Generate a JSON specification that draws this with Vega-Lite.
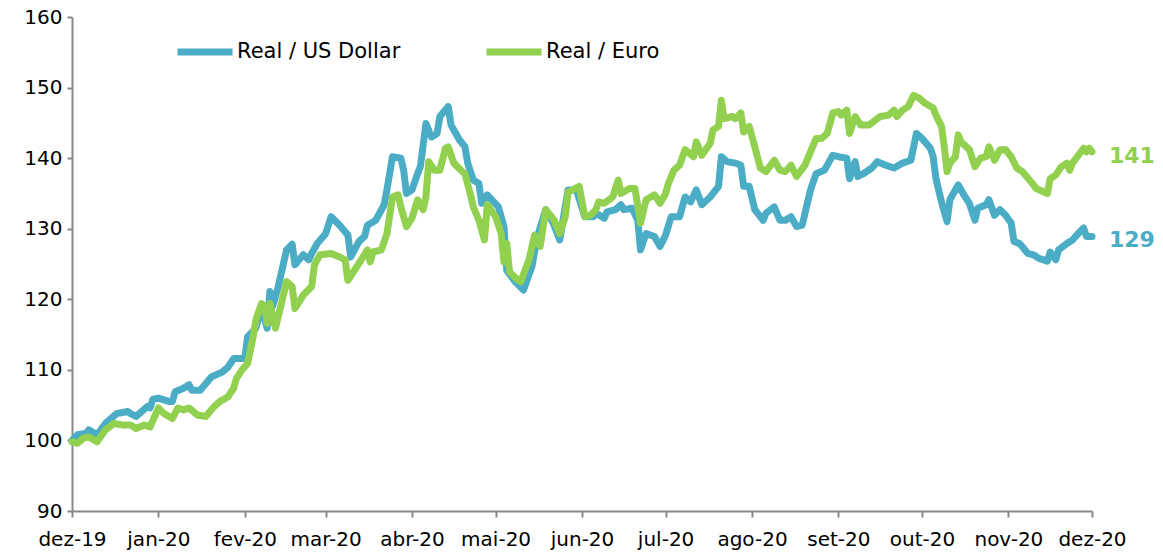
{
  "$schema": "https://vega.github.io/schema/vega-lite/v6.json",
  "autosize": "none",
  "width": 1020,
  "height": 494,
  "padding": {"left": 72, "top": 17, "right": 71, "bottom": 44},
  "background": "white",
  "config": {
    "view": {"stroke": null},
    "font": "DejaVu Sans",
    "axis": {"labelFont": "DejaVu Sans", "labelFontSize": 20, "labelColor": "#000", "domainColor": "#888", "tickColor": "#888", "domainWidth": 2, "tickWidth": 2, "grid": false, "title": null}
  },
  "data": {
    "format": {"parse": {"date": "utc:'%Y-%m-%d'"}},
    "values": [
      {"date":"2019-12-01","series":"Real / US Dollar","value":100.0},
      {"date":"2019-12-03","series":"Real / US Dollar","value":100.8},
      {"date":"2019-12-06","series":"Real / US Dollar","value":101.0},
      {"date":"2019-12-07","series":"Real / US Dollar","value":101.5},
      {"date":"2019-12-10","series":"Real / US Dollar","value":100.8},
      {"date":"2019-12-13","series":"Real / US Dollar","value":102.4},
      {"date":"2019-12-17","series":"Real / US Dollar","value":103.8},
      {"date":"2019-12-21","series":"Real / US Dollar","value":104.1},
      {"date":"2019-12-22","series":"Real / US Dollar","value":103.8},
      {"date":"2019-12-24","series":"Real / US Dollar","value":103.4},
      {"date":"2019-12-28","series":"Real / US Dollar","value":104.8},
      {"date":"2019-12-29","series":"Real / US Dollar","value":104.6},
      {"date":"2019-12-30","series":"Real / US Dollar","value":105.8},
      {"date":"2020-01-01","series":"Real / US Dollar","value":106.0},
      {"date":"2020-01-05","series":"Real / US Dollar","value":105.5},
      {"date":"2020-01-06","series":"Real / US Dollar","value":105.5},
      {"date":"2020-01-07","series":"Real / US Dollar","value":106.9},
      {"date":"2020-01-10","series":"Real / US Dollar","value":107.4},
      {"date":"2020-01-12","series":"Real / US Dollar","value":107.9},
      {"date":"2020-01-13","series":"Real / US Dollar","value":107.1},
      {"date":"2020-01-16","series":"Real / US Dollar","value":107.1},
      {"date":"2020-01-20","series":"Real / US Dollar","value":109.0},
      {"date":"2020-01-24","series":"Real / US Dollar","value":109.7},
      {"date":"2020-01-26","series":"Real / US Dollar","value":110.4},
      {"date":"2020-01-28","series":"Real / US Dollar","value":111.6},
      {"date":"2020-02-01","series":"Real / US Dollar","value":111.6},
      {"date":"2020-02-02","series":"Real / US Dollar","value":114.7},
      {"date":"2020-02-05","series":"Real / US Dollar","value":115.9},
      {"date":"2020-02-07","series":"Real / US Dollar","value":119.0},
      {"date":"2020-02-09","series":"Real / US Dollar","value":115.9},
      {"date":"2020-02-10","series":"Real / US Dollar","value":121.1},
      {"date":"2020-02-11","series":"Real / US Dollar","value":119.0},
      {"date":"2020-02-13","series":"Real / US Dollar","value":121.8},
      {"date":"2020-02-16","series":"Real / US Dollar","value":127.0},
      {"date":"2020-02-18","series":"Real / US Dollar","value":127.8},
      {"date":"2020-02-19","series":"Real / US Dollar","value":124.9},
      {"date":"2020-02-22","series":"Real / US Dollar","value":126.3},
      {"date":"2020-02-24","series":"Real / US Dollar","value":125.6},
      {"date":"2020-02-25","series":"Real / US Dollar","value":126.5},
      {"date":"2020-02-27","series":"Real / US Dollar","value":127.9},
      {"date":"2020-03-01","series":"Real / US Dollar","value":129.3},
      {"date":"2020-03-03","series":"Real / US Dollar","value":131.7},
      {"date":"2020-03-06","series":"Real / US Dollar","value":130.5},
      {"date":"2020-03-09","series":"Real / US Dollar","value":129.1},
      {"date":"2020-03-10","series":"Real / US Dollar","value":126.0},
      {"date":"2020-03-13","series":"Real / US Dollar","value":128.2},
      {"date":"2020-03-15","series":"Real / US Dollar","value":128.9},
      {"date":"2020-03-16","series":"Real / US Dollar","value":130.5},
      {"date":"2020-03-19","series":"Real / US Dollar","value":131.2},
      {"date":"2020-03-22","series":"Real / US Dollar","value":133.4},
      {"date":"2020-03-23","series":"Real / US Dollar","value":135.5},
      {"date":"2020-03-25","series":"Real / US Dollar","value":140.2},
      {"date":"2020-03-28","series":"Real / US Dollar","value":140.0},
      {"date":"2020-03-29","series":"Real / US Dollar","value":138.3},
      {"date":"2020-03-30","series":"Real / US Dollar","value":135.0},
      {"date":"2020-04-01","series":"Real / US Dollar","value":135.5},
      {"date":"2020-04-03","series":"Real / US Dollar","value":137.8},
      {"date":"2020-04-04","series":"Real / US Dollar","value":138.8},
      {"date":"2020-04-06","series":"Real / US Dollar","value":144.9},
      {"date":"2020-04-08","series":"Real / US Dollar","value":143.0},
      {"date":"2020-04-10","series":"Real / US Dollar","value":143.5},
      {"date":"2020-04-11","series":"Real / US Dollar","value":145.9},
      {"date":"2020-04-14","series":"Real / US Dollar","value":147.3},
      {"date":"2020-04-15","series":"Real / US Dollar","value":144.7},
      {"date":"2020-04-18","series":"Real / US Dollar","value":142.6},
      {"date":"2020-04-20","series":"Real / US Dollar","value":141.6},
      {"date":"2020-04-21","series":"Real / US Dollar","value":139.3},
      {"date":"2020-04-23","series":"Real / US Dollar","value":136.9},
      {"date":"2020-04-25","series":"Real / US Dollar","value":136.4},
      {"date":"2020-04-26","series":"Real / US Dollar","value":133.6},
      {"date":"2020-04-28","series":"Real / US Dollar","value":134.8},
      {"date":"2020-05-02","series":"Real / US Dollar","value":133.1},
      {"date":"2020-05-04","series":"Real / US Dollar","value":130.3},
      {"date":"2020-05-05","series":"Real / US Dollar","value":124.1},
      {"date":"2020-05-08","series":"Real / US Dollar","value":122.5},
      {"date":"2020-05-11","series":"Real / US Dollar","value":121.3},
      {"date":"2020-05-14","series":"Real / US Dollar","value":124.6},
      {"date":"2020-05-16","series":"Real / US Dollar","value":128.9},
      {"date":"2020-05-19","series":"Real / US Dollar","value":132.7},
      {"date":"2020-05-22","series":"Real / US Dollar","value":130.5},
      {"date":"2020-05-24","series":"Real / US Dollar","value":128.4},
      {"date":"2020-05-27","series":"Real / US Dollar","value":135.5},
      {"date":"2020-05-30","series":"Real / US Dollar","value":135.5},
      {"date":"2020-06-02","series":"Real / US Dollar","value":131.7},
      {"date":"2020-06-05","series":"Real / US Dollar","value":131.7},
      {"date":"2020-06-06","series":"Real / US Dollar","value":132.2},
      {"date":"2020-06-09","series":"Real / US Dollar","value":131.5},
      {"date":"2020-06-10","series":"Real / US Dollar","value":132.4},
      {"date":"2020-06-13","series":"Real / US Dollar","value":132.7},
      {"date":"2020-06-15","series":"Real / US Dollar","value":133.4},
      {"date":"2020-06-16","series":"Real / US Dollar","value":132.7},
      {"date":"2020-06-19","series":"Real / US Dollar","value":132.9},
      {"date":"2020-06-21","series":"Real / US Dollar","value":131.2},
      {"date":"2020-06-22","series":"Real / US Dollar","value":127.0},
      {"date":"2020-06-24","series":"Real / US Dollar","value":129.3},
      {"date":"2020-06-27","series":"Real / US Dollar","value":128.9},
      {"date":"2020-06-29","series":"Real / US Dollar","value":127.5},
      {"date":"2020-07-01","series":"Real / US Dollar","value":129.1},
      {"date":"2020-07-03","series":"Real / US Dollar","value":131.7},
      {"date":"2020-07-06","series":"Real / US Dollar","value":131.7},
      {"date":"2020-07-08","series":"Real / US Dollar","value":134.5},
      {"date":"2020-07-10","series":"Real / US Dollar","value":133.8},
      {"date":"2020-07-12","series":"Real / US Dollar","value":135.5},
      {"date":"2020-07-14","series":"Real / US Dollar","value":133.4},
      {"date":"2020-07-17","series":"Real / US Dollar","value":134.5},
      {"date":"2020-07-20","series":"Real / US Dollar","value":136.0},
      {"date":"2020-07-21","series":"Real / US Dollar","value":140.2},
      {"date":"2020-07-23","series":"Real / US Dollar","value":139.5},
      {"date":"2020-07-26","series":"Real / US Dollar","value":139.3},
      {"date":"2020-07-28","series":"Real / US Dollar","value":139.0},
      {"date":"2020-07-29","series":"Real / US Dollar","value":136.0},
      {"date":"2020-07-31","series":"Real / US Dollar","value":136.0},
      {"date":"2020-08-02","series":"Real / US Dollar","value":132.7},
      {"date":"2020-08-05","series":"Real / US Dollar","value":131.2},
      {"date":"2020-08-06","series":"Real / US Dollar","value":132.2},
      {"date":"2020-08-09","series":"Real / US Dollar","value":133.1},
      {"date":"2020-08-11","series":"Real / US Dollar","value":131.2},
      {"date":"2020-08-13","series":"Real / US Dollar","value":131.2},
      {"date":"2020-08-15","series":"Real / US Dollar","value":131.7},
      {"date":"2020-08-17","series":"Real / US Dollar","value":130.3},
      {"date":"2020-08-19","series":"Real / US Dollar","value":130.5},
      {"date":"2020-08-22","series":"Real / US Dollar","value":135.5},
      {"date":"2020-08-24","series":"Real / US Dollar","value":137.8},
      {"date":"2020-08-27","series":"Real / US Dollar","value":138.3},
      {"date":"2020-08-30","series":"Real / US Dollar","value":140.4},
      {"date":"2020-09-01","series":"Real / US Dollar","value":140.2},
      {"date":"2020-09-04","series":"Real / US Dollar","value":140.0},
      {"date":"2020-09-05","series":"Real / US Dollar","value":137.1},
      {"date":"2020-09-07","series":"Real / US Dollar","value":139.5},
      {"date":"2020-09-08","series":"Real / US Dollar","value":137.4},
      {"date":"2020-09-10","series":"Real / US Dollar","value":137.8},
      {"date":"2020-09-13","series":"Real / US Dollar","value":138.6},
      {"date":"2020-09-15","series":"Real / US Dollar","value":139.5},
      {"date":"2020-09-18","series":"Real / US Dollar","value":139.0},
      {"date":"2020-09-21","series":"Real / US Dollar","value":138.6},
      {"date":"2020-09-24","series":"Real / US Dollar","value":139.3},
      {"date":"2020-09-27","series":"Real / US Dollar","value":139.7},
      {"date":"2020-09-29","series":"Real / US Dollar","value":143.5},
      {"date":"2020-10-01","series":"Real / US Dollar","value":142.8},
      {"date":"2020-10-04","series":"Real / US Dollar","value":141.4},
      {"date":"2020-10-05","series":"Real / US Dollar","value":140.2},
      {"date":"2020-10-06","series":"Real / US Dollar","value":137.1},
      {"date":"2020-10-08","series":"Real / US Dollar","value":133.8},
      {"date":"2020-10-10","series":"Real / US Dollar","value":131.0},
      {"date":"2020-10-11","series":"Real / US Dollar","value":134.1},
      {"date":"2020-10-12","series":"Real / US Dollar","value":134.8},
      {"date":"2020-10-14","series":"Real / US Dollar","value":136.2},
      {"date":"2020-10-16","series":"Real / US Dollar","value":134.8},
      {"date":"2020-10-18","series":"Real / US Dollar","value":133.6},
      {"date":"2020-10-20","series":"Real / US Dollar","value":131.2},
      {"date":"2020-10-21","series":"Real / US Dollar","value":132.9},
      {"date":"2020-10-24","series":"Real / US Dollar","value":133.4},
      {"date":"2020-10-25","series":"Real / US Dollar","value":134.1},
      {"date":"2020-10-27","series":"Real / US Dollar","value":131.9},
      {"date":"2020-10-29","series":"Real / US Dollar","value":132.7},
      {"date":"2020-10-31","series":"Real / US Dollar","value":131.9},
      {"date":"2020-11-02","series":"Real / US Dollar","value":130.8},
      {"date":"2020-11-03","series":"Real / US Dollar","value":128.2},
      {"date":"2020-11-05","series":"Real / US Dollar","value":127.9},
      {"date":"2020-11-08","series":"Real / US Dollar","value":126.5},
      {"date":"2020-11-10","series":"Real / US Dollar","value":126.3},
      {"date":"2020-11-12","series":"Real / US Dollar","value":125.8},
      {"date":"2020-11-15","series":"Real / US Dollar","value":125.4},
      {"date":"2020-11-16","series":"Real / US Dollar","value":126.7},
      {"date":"2020-11-18","series":"Real / US Dollar","value":125.6},
      {"date":"2020-11-19","series":"Real / US Dollar","value":127.0},
      {"date":"2020-11-22","series":"Real / US Dollar","value":127.9},
      {"date":"2020-11-24","series":"Real / US Dollar","value":128.4},
      {"date":"2020-11-26","series":"Real / US Dollar","value":129.3},
      {"date":"2020-11-28","series":"Real / US Dollar","value":130.1},
      {"date":"2020-11-29","series":"Real / US Dollar","value":128.9},
      {"date":"2020-12-01","series":"Real / US Dollar","value":128.9},
      {"date":"2019-12-01","series":"Real / Euro","value":99.8},
      {"date":"2019-12-03","series":"Real / Euro","value":99.6},
      {"date":"2019-12-05","series":"Real / Euro","value":100.3},
      {"date":"2019-12-07","series":"Real / Euro","value":100.5},
      {"date":"2019-12-10","series":"Real / Euro","value":99.8},
      {"date":"2019-12-13","series":"Real / Euro","value":101.5},
      {"date":"2019-12-16","series":"Real / Euro","value":102.4},
      {"date":"2019-12-19","series":"Real / Euro","value":102.2},
      {"date":"2019-12-22","series":"Real / Euro","value":102.2},
      {"date":"2019-12-24","series":"Real / Euro","value":101.7},
      {"date":"2019-12-27","series":"Real / Euro","value":102.2},
      {"date":"2019-12-29","series":"Real / Euro","value":101.9},
      {"date":"2020-01-01","series":"Real / Euro","value":104.6},
      {"date":"2020-01-03","series":"Real / Euro","value":103.8},
      {"date":"2020-01-06","series":"Real / Euro","value":103.1},
      {"date":"2020-01-08","series":"Real / Euro","value":104.6},
      {"date":"2020-01-10","series":"Real / Euro","value":104.3},
      {"date":"2020-01-12","series":"Real / Euro","value":104.6},
      {"date":"2020-01-15","series":"Real / Euro","value":103.6},
      {"date":"2020-01-18","series":"Real / Euro","value":103.4},
      {"date":"2020-01-21","series":"Real / Euro","value":104.8},
      {"date":"2020-01-23","series":"Real / Euro","value":105.5},
      {"date":"2020-01-26","series":"Real / Euro","value":106.2},
      {"date":"2020-01-28","series":"Real / Euro","value":107.4},
      {"date":"2020-01-29","series":"Real / Euro","value":108.8},
      {"date":"2020-01-31","series":"Real / Euro","value":110.0},
      {"date":"2020-02-02","series":"Real / Euro","value":110.9},
      {"date":"2020-02-04","series":"Real / Euro","value":114.7},
      {"date":"2020-02-05","series":"Real / Euro","value":117.1},
      {"date":"2020-02-07","series":"Real / Euro","value":119.4},
      {"date":"2020-02-08","series":"Real / Euro","value":119.0},
      {"date":"2020-02-09","series":"Real / Euro","value":116.6},
      {"date":"2020-02-10","series":"Real / Euro","value":119.4},
      {"date":"2020-02-12","series":"Real / Euro","value":115.9},
      {"date":"2020-02-16","series":"Real / Euro","value":122.5},
      {"date":"2020-02-18","series":"Real / Euro","value":121.8},
      {"date":"2020-02-19","series":"Real / Euro","value":118.7},
      {"date":"2020-02-22","series":"Real / Euro","value":120.6},
      {"date":"2020-02-25","series":"Real / Euro","value":121.8},
      {"date":"2020-02-26","series":"Real / Euro","value":124.9},
      {"date":"2020-02-28","series":"Real / Euro","value":126.3},
      {"date":"2020-03-03","series":"Real / Euro","value":126.5},
      {"date":"2020-03-06","series":"Real / Euro","value":126.0},
      {"date":"2020-03-08","series":"Real / Euro","value":125.6},
      {"date":"2020-03-09","series":"Real / Euro","value":122.7},
      {"date":"2020-03-13","series":"Real / Euro","value":125.1},
      {"date":"2020-03-16","series":"Real / Euro","value":127.0},
      {"date":"2020-03-17","series":"Real / Euro","value":125.3},
      {"date":"2020-03-18","series":"Real / Euro","value":126.7},
      {"date":"2020-03-21","series":"Real / Euro","value":127.0},
      {"date":"2020-03-23","series":"Real / Euro","value":129.3},
      {"date":"2020-03-25","series":"Real / Euro","value":134.5},
      {"date":"2020-03-27","series":"Real / Euro","value":134.8},
      {"date":"2020-03-28","series":"Real / Euro","value":133.1},
      {"date":"2020-03-30","series":"Real / Euro","value":130.3},
      {"date":"2020-04-01","series":"Real / Euro","value":131.5},
      {"date":"2020-04-03","series":"Real / Euro","value":134.1},
      {"date":"2020-04-05","series":"Real / Euro","value":132.7},
      {"date":"2020-04-06","series":"Real / Euro","value":134.5},
      {"date":"2020-04-07","series":"Real / Euro","value":139.5},
      {"date":"2020-04-09","series":"Real / Euro","value":138.3},
      {"date":"2020-04-11","series":"Real / Euro","value":138.3},
      {"date":"2020-04-13","series":"Real / Euro","value":141.4},
      {"date":"2020-04-14","series":"Real / Euro","value":141.6},
      {"date":"2020-04-16","series":"Real / Euro","value":139.3},
      {"date":"2020-04-19","series":"Real / Euro","value":138.1},
      {"date":"2020-04-20","series":"Real / Euro","value":137.8},
      {"date":"2020-04-22","series":"Real / Euro","value":134.8},
      {"date":"2020-04-23","series":"Real / Euro","value":133.1},
      {"date":"2020-04-25","series":"Real / Euro","value":131.2},
      {"date":"2020-04-27","series":"Real / Euro","value":128.4},
      {"date":"2020-04-28","series":"Real / Euro","value":133.4},
      {"date":"2020-05-01","series":"Real / Euro","value":131.7},
      {"date":"2020-05-03","series":"Real / Euro","value":129.3},
      {"date":"2020-05-04","series":"Real / Euro","value":125.3},
      {"date":"2020-05-05","series":"Real / Euro","value":127.9},
      {"date":"2020-05-06","series":"Real / Euro","value":123.9},
      {"date":"2020-05-09","series":"Real / Euro","value":122.7},
      {"date":"2020-05-10","series":"Real / Euro","value":122.5},
      {"date":"2020-05-13","series":"Real / Euro","value":125.6},
      {"date":"2020-05-15","series":"Real / Euro","value":129.1},
      {"date":"2020-05-17","series":"Real / Euro","value":127.5},
      {"date":"2020-05-19","series":"Real / Euro","value":132.7},
      {"date":"2020-05-22","series":"Real / Euro","value":131.2},
      {"date":"2020-05-24","series":"Real / Euro","value":129.3},
      {"date":"2020-05-26","series":"Real / Euro","value":131.7},
      {"date":"2020-05-27","series":"Real / Euro","value":135.2},
      {"date":"2020-05-31","series":"Real / Euro","value":136.0},
      {"date":"2020-06-02","series":"Real / Euro","value":131.7},
      {"date":"2020-06-04","series":"Real / Euro","value":131.9},
      {"date":"2020-06-06","series":"Real / Euro","value":132.7},
      {"date":"2020-06-07","series":"Real / Euro","value":133.8},
      {"date":"2020-06-09","series":"Real / Euro","value":133.6},
      {"date":"2020-06-12","series":"Real / Euro","value":134.5},
      {"date":"2020-06-14","series":"Real / Euro","value":136.9},
      {"date":"2020-06-15","series":"Real / Euro","value":135.0},
      {"date":"2020-06-18","series":"Real / Euro","value":135.7},
      {"date":"2020-06-20","series":"Real / Euro","value":135.7},
      {"date":"2020-06-22","series":"Real / Euro","value":130.8},
      {"date":"2020-06-24","series":"Real / Euro","value":134.1},
      {"date":"2020-06-27","series":"Real / Euro","value":134.8},
      {"date":"2020-06-29","series":"Real / Euro","value":133.6},
      {"date":"2020-07-01","series":"Real / Euro","value":135.0},
      {"date":"2020-07-02","series":"Real / Euro","value":136.4},
      {"date":"2020-07-04","series":"Real / Euro","value":138.3},
      {"date":"2020-07-06","series":"Real / Euro","value":139.0},
      {"date":"2020-07-08","series":"Real / Euro","value":141.2},
      {"date":"2020-07-11","series":"Real / Euro","value":140.2},
      {"date":"2020-07-12","series":"Real / Euro","value":142.3},
      {"date":"2020-07-14","series":"Real / Euro","value":140.4},
      {"date":"2020-07-17","series":"Real / Euro","value":142.1},
      {"date":"2020-07-18","series":"Real / Euro","value":144.0},
      {"date":"2020-07-20","series":"Real / Euro","value":144.5},
      {"date":"2020-07-21","series":"Real / Euro","value":148.2},
      {"date":"2020-07-22","series":"Real / Euro","value":145.6},
      {"date":"2020-07-25","series":"Real / Euro","value":145.9},
      {"date":"2020-07-26","series":"Real / Euro","value":145.6},
      {"date":"2020-07-28","series":"Real / Euro","value":146.4},
      {"date":"2020-07-29","series":"Real / Euro","value":143.7},
      {"date":"2020-07-31","series":"Real / Euro","value":144.5},
      {"date":"2020-08-02","series":"Real / Euro","value":141.6},
      {"date":"2020-08-04","series":"Real / Euro","value":138.6},
      {"date":"2020-08-06","series":"Real / Euro","value":138.1},
      {"date":"2020-08-09","series":"Real / Euro","value":139.7},
      {"date":"2020-08-11","series":"Real / Euro","value":138.3},
      {"date":"2020-08-13","series":"Real / Euro","value":138.1},
      {"date":"2020-08-15","series":"Real / Euro","value":139.0},
      {"date":"2020-08-17","series":"Real / Euro","value":137.4},
      {"date":"2020-08-20","series":"Real / Euro","value":139.0},
      {"date":"2020-08-22","series":"Real / Euro","value":140.9},
      {"date":"2020-08-24","series":"Real / Euro","value":142.8},
      {"date":"2020-08-26","series":"Real / Euro","value":142.8},
      {"date":"2020-08-28","series":"Real / Euro","value":143.5},
      {"date":"2020-08-30","series":"Real / Euro","value":146.4},
      {"date":"2020-09-01","series":"Real / Euro","value":146.6},
      {"date":"2020-09-02","series":"Real / Euro","value":146.1},
      {"date":"2020-09-04","series":"Real / Euro","value":146.8},
      {"date":"2020-09-05","series":"Real / Euro","value":143.5},
      {"date":"2020-09-07","series":"Real / Euro","value":145.9},
      {"date":"2020-09-09","series":"Real / Euro","value":144.7},
      {"date":"2020-09-12","series":"Real / Euro","value":144.7},
      {"date":"2020-09-16","series":"Real / Euro","value":145.9},
      {"date":"2020-09-19","series":"Real / Euro","value":146.1},
      {"date":"2020-09-21","series":"Real / Euro","value":146.8},
      {"date":"2020-09-22","series":"Real / Euro","value":145.9},
      {"date":"2020-09-24","series":"Real / Euro","value":146.8},
      {"date":"2020-09-26","series":"Real / Euro","value":147.3},
      {"date":"2020-09-28","series":"Real / Euro","value":148.9},
      {"date":"2020-09-30","series":"Real / Euro","value":148.5},
      {"date":"2020-10-02","series":"Real / Euro","value":147.8},
      {"date":"2020-10-05","series":"Real / Euro","value":147.1},
      {"date":"2020-10-06","series":"Real / Euro","value":146.1},
      {"date":"2020-10-08","series":"Real / Euro","value":144.5},
      {"date":"2020-10-09","series":"Real / Euro","value":141.6},
      {"date":"2020-10-10","series":"Real / Euro","value":138.1},
      {"date":"2020-10-11","series":"Real / Euro","value":139.3},
      {"date":"2020-10-13","series":"Real / Euro","value":140.2},
      {"date":"2020-10-14","series":"Real / Euro","value":143.3},
      {"date":"2020-10-15","series":"Real / Euro","value":142.3},
      {"date":"2020-10-18","series":"Real / Euro","value":141.2},
      {"date":"2020-10-20","series":"Real / Euro","value":138.8},
      {"date":"2020-10-22","series":"Real / Euro","value":140.0},
      {"date":"2020-10-24","series":"Real / Euro","value":140.2},
      {"date":"2020-10-25","series":"Real / Euro","value":141.6},
      {"date":"2020-10-26","series":"Real / Euro","value":140.7},
      {"date":"2020-10-27","series":"Real / Euro","value":139.7},
      {"date":"2020-10-29","series":"Real / Euro","value":141.2},
      {"date":"2020-10-31","series":"Real / Euro","value":141.2},
      {"date":"2020-11-02","series":"Real / Euro","value":140.2},
      {"date":"2020-11-04","series":"Real / Euro","value":138.6},
      {"date":"2020-11-06","series":"Real / Euro","value":138.1},
      {"date":"2020-11-09","series":"Real / Euro","value":136.7},
      {"date":"2020-11-11","series":"Real / Euro","value":135.7},
      {"date":"2020-11-15","series":"Real / Euro","value":135.0},
      {"date":"2020-11-16","series":"Real / Euro","value":137.1},
      {"date":"2020-11-18","series":"Real / Euro","value":137.6},
      {"date":"2020-11-20","series":"Real / Euro","value":138.8},
      {"date":"2020-11-22","series":"Real / Euro","value":139.3},
      {"date":"2020-11-23","series":"Real / Euro","value":138.3},
      {"date":"2020-11-24","series":"Real / Euro","value":139.3},
      {"date":"2020-11-28","series":"Real / Euro","value":141.4},
      {"date":"2020-11-29","series":"Real / Euro","value":140.9},
      {"date":"2020-11-30","series":"Real / Euro","value":141.4},
      {"date":"2020-12-01","series":"Real / Euro","value":140.9}
    ]
  },
  "encoding": {
    "x": {
      "field": "date",
      "type": "temporal",
      "scale": {"type": "utc", "domain": [{"year": 2019, "month": 12, "date": 1, "utc": true}, {"year": 2020, "month": 12, "date": 1, "utc": true}]},
      "axis": {
        "values": [
          {"year": 2019, "month": 12, "date": 1, "utc": true},
          {"year": 2020, "month": 1, "date": 1, "utc": true},
          {"year": 2020, "month": 2, "date": 1, "utc": true},
          {"year": 2020, "month": 3, "date": 1, "utc": true},
          {"year": 2020, "month": 4, "date": 1, "utc": true},
          {"year": 2020, "month": 5, "date": 1, "utc": true},
          {"year": 2020, "month": 6, "date": 1, "utc": true},
          {"year": 2020, "month": 7, "date": 1, "utc": true},
          {"year": 2020, "month": 8, "date": 1, "utc": true},
          {"year": 2020, "month": 9, "date": 1, "utc": true},
          {"year": 2020, "month": 10, "date": 1, "utc": true},
          {"year": 2020, "month": 11, "date": 1, "utc": true},
          {"year": 2020, "month": 12, "date": 1, "utc": true}
        ],
        "labelExpr": "['jan','fev','mar','abr','mai','jun','jul','ago','set','out','nov','dez'][utcmonth(datum.value)] + '-' + utcFormat(datum.value, '%y')",
        "tickSize": 6,
        "labelPadding": 12,
        "labelOverlap": false,
        "labelFlush": false
      }
    },
    "y": {
      "field": "value",
      "type": "quantitative",
      "scale": {"domain": [90, 160], "nice": false, "zero": false},
      "axis": {"values": [90, 100, 110, 120, 130, 140, 150, 160], "tickSize": 5, "labelPadding": 5}
    },
    "color": {
      "field": "series",
      "type": "nominal",
      "scale": {"domain": ["Real / US Dollar", "Real / Euro"], "range": ["#4BACC6", "#92D050"]},
      "legend": {
        "title": null,
        "orient": "none",
        "legendX": 102,
        "legendY": 4,
        "direction": "horizontal",
        "symbolType": "stroke",
        "symbolSize": 3025,
        "symbolStrokeWidth": 7,
        "labelFontSize": 21,
        "labelFont": "DejaVu Sans",
        "labelColor": "#000",
        "labelLimit": 400,
        "labelOffset": 1,
        "columnPadding": 71,
        "padding": 0
      }
    }
  },
  "layer": [
    {
      "mark": {"type": "line", "strokeWidth": 7, "strokeJoin": "round", "strokeCap": "round"}
    },
    {
      "transform": [{"filter": "utcFormat(datum.date, '%Y-%m-%d') == '2020-12-01'"}],
      "mark": {"type": "text", "align": "left", "baseline": "middle", "dx": 17, "dy": 4, "fontSize": 22, "fontWeight": "bold", "font": "DejaVu Sans"},
      "encoding": {
        "text": {"field": "value", "type": "quantitative", "format": ".0f"}
      }
    }
  ]
}
